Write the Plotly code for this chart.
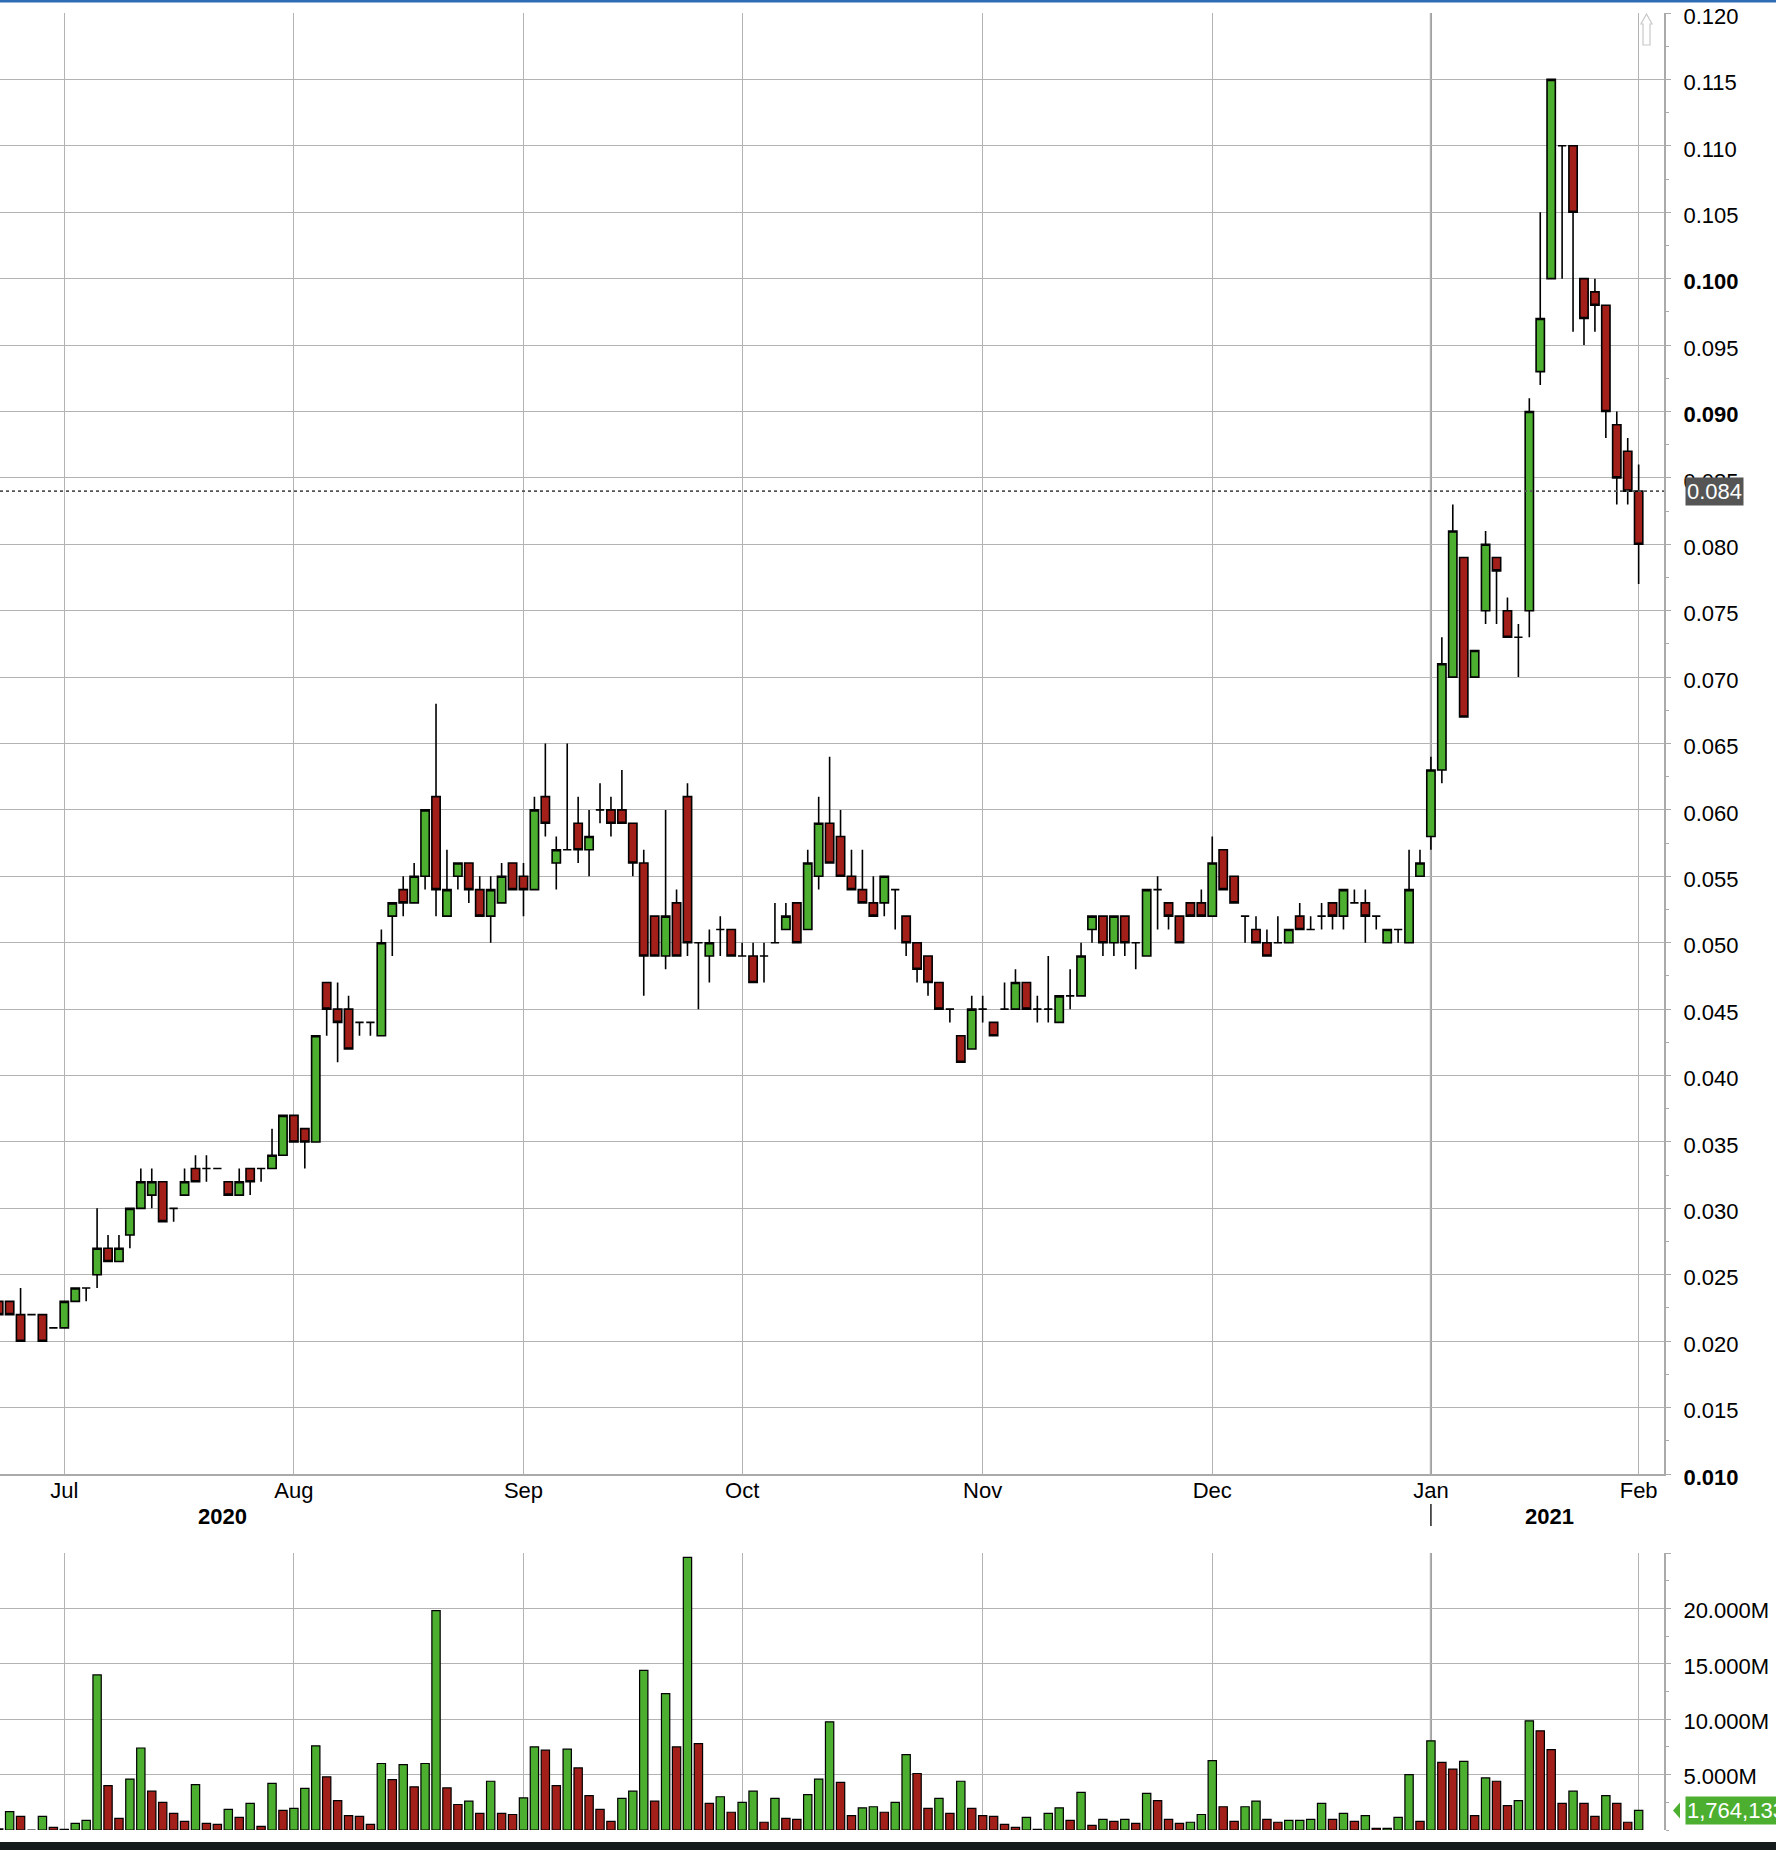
import plotly.graph_objects as go

# ---------------- data (one slot per trading session, left to right) ----------------
opens = [0.023,0.023,0.022,0.022,0.022,0.021,0.021,0.023,0.024,0.025,
         0.027,0.026,0.028,0.030,0.031,0.032,0.030,0.031,0.033,0.033,
         0.033,0.032,0.031,0.033,0.033,0.033,0.034,0.037,0.036,0.035,
         0.047,0.045,0.045,0.044,0.044,0.043,0.052,0.054,0.053,0.055,
         0.061,0.052,0.055,0.056,0.054,0.052,0.053,0.056,0.055,0.054,
         0.061,0.056,0.057,0.059,0.057,0.060,0.060,0.060,0.059,0.056,
         0.052,0.049,0.053,0.061,0.050,0.049,0.051,0.051,0.049,0.049,
         0.049,0.050,0.051,0.053,0.051,0.055,0.059,0.058,0.055,0.054,
         0.053,0.053,0.054,0.052,0.050,0.049,0.047,0.045,0.043,0.042,
         0.045,0.044,0.045,0.045,0.047,0.045,0.045,0.044,0.046,0.046,
         0.051,0.052,0.050,0.052,0.050,0.049,0.054,0.053,0.052,0.053,
         0.053,0.052,0.057,0.055,0.052,0.051,0.050,0.050,0.050,0.052,
         0.051,0.052,0.053,0.052,0.053,0.053,0.052,0.050,0.051,0.050,
         0.055,0.058,0.063,0.070,0.079,0.070,0.075,0.079,0.075,0.073,
         0.075,0.093,0.100,0.110,0.110,0.100,0.099,0.098,0.089,0.087,
         0.084]
highs = [0.023,0.023,0.024,0.022,0.022,0.021,0.023,0.024,0.024,0.030,
         0.028,0.028,0.030,0.033,0.033,0.032,0.030,0.033,0.034,0.034,
         0.033,0.032,0.033,0.033,0.033,0.036,0.037,0.037,0.036,0.043,
         0.047,0.047,0.046,0.044,0.044,0.051,0.053,0.055,0.056,0.060,
         0.068,0.057,0.056,0.056,0.055,0.055,0.056,0.056,0.056,0.061,
         0.065,0.058,0.065,0.061,0.060,0.062,0.061,0.063,0.059,0.057,
         0.052,0.060,0.054,0.062,0.050,0.051,0.052,0.051,0.050,0.050,
         0.050,0.053,0.053,0.053,0.057,0.061,0.064,0.060,0.057,0.057,
         0.055,0.055,0.054,0.052,0.050,0.049,0.047,0.045,0.043,0.046,
         0.046,0.044,0.047,0.048,0.047,0.046,0.049,0.046,0.048,0.050,
         0.052,0.052,0.052,0.052,0.050,0.054,0.055,0.053,0.052,0.053,
         0.054,0.058,0.057,0.055,0.052,0.052,0.051,0.052,0.051,0.053,
         0.052,0.053,0.053,0.054,0.054,0.054,0.052,0.051,0.051,0.057,
         0.057,0.064,0.073,0.083,0.079,0.072,0.081,0.079,0.076,0.074,
         0.091,0.105,0.115,0.110,0.110,0.100,0.100,0.098,0.090,0.088,
         0.086]
lows = [0.022,0.022,0.020,0.022,0.020,0.021,0.021,0.023,0.023,0.024,
        0.026,0.026,0.027,0.030,0.030,0.029,0.029,0.031,0.032,0.032,
        0.033,0.031,0.031,0.031,0.032,0.033,0.034,0.035,0.033,0.035,
        0.043,0.041,0.042,0.043,0.043,0.043,0.049,0.052,0.053,0.054,
        0.052,0.052,0.054,0.053,0.052,0.050,0.053,0.054,0.052,0.054,
        0.058,0.054,0.057,0.056,0.055,0.059,0.058,0.059,0.055,0.046,
        0.049,0.048,0.049,0.049,0.045,0.047,0.049,0.049,0.049,0.047,
        0.047,0.050,0.051,0.050,0.051,0.054,0.056,0.055,0.054,0.053,
        0.052,0.052,0.051,0.049,0.047,0.046,0.045,0.044,0.041,0.042,
        0.044,0.043,0.045,0.045,0.045,0.044,0.044,0.044,0.045,0.046,
        0.050,0.049,0.049,0.049,0.048,0.049,0.051,0.051,0.050,0.052,
        0.052,0.052,0.054,0.053,0.050,0.050,0.049,0.050,0.050,0.051,
        0.051,0.051,0.051,0.051,0.053,0.050,0.051,0.050,0.050,0.050,
        0.055,0.057,0.062,0.070,0.067,0.070,0.074,0.074,0.073,0.070,
        0.073,0.092,0.100,0.100,0.096,0.095,0.096,0.088,0.083,0.083,
        0.077]
closes = [0.022,0.022,0.020,0.022,0.020,0.021,0.023,0.024,0.024,0.027,
          0.026,0.027,0.030,0.032,0.032,0.029,0.030,0.032,0.032,0.033,
          0.033,0.031,0.032,0.032,0.033,0.034,0.037,0.035,0.035,0.043,
          0.045,0.044,0.042,0.044,0.044,0.050,0.053,0.053,0.055,0.060,
          0.054,0.054,0.056,0.054,0.052,0.054,0.055,0.054,0.054,0.060,
          0.059,0.057,0.057,0.057,0.058,0.060,0.059,0.059,0.056,0.049,
          0.049,0.052,0.049,0.050,0.050,0.050,0.051,0.049,0.049,0.047,
          0.049,0.050,0.052,0.050,0.056,0.059,0.056,0.055,0.054,0.053,
          0.052,0.055,0.054,0.050,0.048,0.047,0.045,0.045,0.041,0.045,
          0.045,0.043,0.045,0.047,0.045,0.045,0.045,0.046,0.046,0.049,
          0.052,0.050,0.052,0.050,0.050,0.054,0.054,0.052,0.050,0.052,
          0.052,0.056,0.054,0.053,0.052,0.050,0.049,0.050,0.051,0.051,
          0.051,0.052,0.052,0.054,0.053,0.052,0.052,0.051,0.051,0.054,
          0.056,0.063,0.071,0.081,0.067,0.072,0.080,0.078,0.073,0.073,
          0.090,0.097,0.115,0.110,0.105,0.097,0.098,0.090,0.085,0.084,
          0.080]
volume_m = [0.10,1.65,1.23,0.00,1.23,0.24,0.06,0.60,0.87,14.0,
            4.00,1.05,4.60,7.40,3.50,2.50,1.50,0.78,4.10,0.60,
            0.50,1.86,1.14,2.40,0.33,4.20,1.77,1.95,3.75,7.60,
            4.80,2.66,1.30,1.23,0.50,6.00,4.55,5.90,3.90,6.00,
            19.8,3.80,2.30,2.60,1.50,4.40,1.50,1.40,2.90,7.50,
            7.20,4.00,7.30,5.60,3.10,1.86,0.78,2.85,3.50,14.4,
            2.60,12.3,7.50,24.6,7.80,2.40,3.00,1.60,2.50,3.50,
            0.70,2.85,1.05,0.96,3.20,4.60,9.76,4.30,1.30,2.00,
            2.10,1.60,2.50,6.80,5.10,1.95,2.85,1.50,4.40,1.95,
            1.30,1.23,0.50,0.24,1.14,0.06,1.50,2.00,0.87,3.40,
            0.42,0.96,0.78,0.96,0.60,3.30,2.66,0.96,0.60,0.70,
            1.40,6.26,2.10,0.78,2.10,2.60,0.96,0.70,0.87,0.87,
            0.96,2.40,0.96,1.50,0.78,1.30,0.15,0.15,1.14,5.00,
            0.78,8.05,6.10,5.50,6.20,1.30,4.70,4.40,2.20,2.66,
            9.85,8.95,7.25,2.40,3.50,2.40,1.23,3.10,2.40,0.70,
            1.764133]
volume_up = "DUDUUDUUUUDDUUDDDDUDDUDUDUDUUUDDDDDUDUDUUDDUDUDDUUDDUDDDDUUUDUDUDDUDUUDUDDUUUDDUUDUUDDUDUDDDDDUUUUDUDUDUDUDDDUUUDDUUDDUUUUDUDUDUUUDUDDUDUDDUUDDDUDDUDDU"
month_slots = [6, 27, 48, 68, 90, 111, 131, 150]
month_labels = ["Jul", "Aug", "Sep", "Oct", "Nov", "Dec", "Jan", "Feb"]
year_labels = [("2020", 20.5), ("2021", 141.8)]
price_ticks = [round(0.010 + 0.005 * i, 3) for i in range(23)]
bold_prices = [0.010, 0.090, 0.100]
vol_ticks = [5, 10, 15, 20]
last_price = 0.084
last_volume_text = "1,764,133"

# ---------------- layout constants (pixels) ----------------
W, H = 1776, 1850
PL, PR = 0, 1664          # plot left/right
PT, PB = 13, 1830         # plot top/bottom
PRICE_BOTTOM = 1474
VOL_TOP = 1553
SLOT = 10.933
X0 = -1.3                 # pixel of slot 0
GREEN = "#4caf30"
RED = "#a3201a"
GRID = "#b3b3b3"
FONT = "Liberation Sans, Arial, Helvetica, sans-serif"

ph = PB - PT
def py(pix):
    return (PB - pix) / ph
def px(pix):
    return (pix - PL) / (PR - PL)

x = list(range(len(opens)))
vol = [v * 1e6 for v in volume_m]
vcol = [GREEN if c == "U" else RED for c in volume_up]

fig = go.Figure()
fig.add_trace(go.Candlestick(
    x=x, open=opens, high=highs, low=lows, close=closes,
    xaxis="x", yaxis="y",
    increasing=dict(fillcolor=GREEN, line=dict(color="black", width=1.6)),
    decreasing=dict(fillcolor=RED, line=dict(color="black", width=1.6)),
    whiskerwidth=0, showlegend=False, hoverinfo="skip"))
fig.add_trace(go.Bar(
    x=x, y=vol, xaxis="x2", yaxis="y2", width=0.76,
    marker=dict(color=vcol, line=dict(color="black", width=1.2)),
    showlegend=False, hoverinfo="skip"))

xr = [(PL - X0) / SLOT, (PR - X0) / SLOT]
ptext = []
for p in price_ticks:
    t = f"{p:.3f}"
    ptext.append(f"<b>{t}</b>" if any(abs(p - b) < 1e-9 for b in bold_prices) else t)

fig.update_layout(
    width=W, height=H,
    margin=dict(l=PL, r=W - PR, t=PT, b=H - PB),
    paper_bgcolor="white", plot_bgcolor="white",
    boxgap=0.24, boxgroupgap=0,
    font=dict(family=FONT, size=22, color="black"),
    xaxis=dict(domain=[0, 1], range=xr, anchor="y",
               tickmode="array", tickvals=month_slots, ticktext=month_labels,
               ticks="", showgrid=True, gridcolor=GRID, gridwidth=1,
               showline=True, linecolor="#aaaaaa", linewidth=2,
               zeroline=False, rangeslider=dict(visible=False),
               ticklabelstandoff=-4,
               tickfont=dict(size=22)),
    xaxis2=dict(domain=[0, 1], range=xr, anchor="y2", matches="x",
                tickmode="array", tickvals=month_slots, showticklabels=False,
                ticks="", showgrid=True, gridcolor=GRID, gridwidth=1,
                showline=False, zeroline=False),
    yaxis=dict(domain=[py(PRICE_BOTTOM), 1], range=[0.010, 0.120], side="right",
               anchor="x", tickmode="array", tickvals=price_ticks, ticktext=ptext,
               ticks="outside", ticklen=5, tickcolor="#aaaaaa",
               ticklabelstandoff=8, ticklabelshift=3,
               minor=dict(ticks="outside", ticklen=3, tickcolor="#aaaaaa",
                          dtick=0.0025, tick0=0.0125, showgrid=False),
               showgrid=True, gridcolor=GRID, gridwidth=1,
               showline=True, linecolor="#aaaaaa", linewidth=2,
               zeroline=False, tickfont=dict(size=22)),
    yaxis2=dict(domain=[0, py(VOL_TOP)], range=[0, 25e6], side="right",
                anchor="x2", tickmode="array",
                tickvals=[v * 1e6 for v in vol_ticks] + [25e6],
                ticktext=[f"{v}.000M" for v in vol_ticks] + [""],
                ticks="outside", ticklen=5, tickcolor="#aaaaaa",
                ticklabelstandoff=8, ticklabelshift=2,
                minor=dict(ticks="outside", ticklen=3, tickcolor="#aaaaaa",
                           dtick=2.5e6, showgrid=False),
                showgrid=True, gridcolor=GRID, gridwidth=1,
                showline=True, linecolor="#aaaaaa", linewidth=2,
                zeroline=False, tickfont=dict(size=22)),
)

shapes = []
jan = month_slots[month_labels.index("Jan")]
shapes.append(dict(type="line", xref="x", yref="paper", x0=jan, x1=jan,
                   y0=py(PRICE_BOTTOM), y1=1, line=dict(color="#a0a0a0", width=2.2), layer="below"))
shapes.append(dict(type="line", xref="x", yref="paper", x0=jan, x1=jan,
                   y0=0, y1=py(VOL_TOP), line=dict(color="#a0a0a0", width=2.2), layer="below"))
shapes.append(dict(type="line", xref="x", yref="paper", x0=jan, x1=jan,
                   y0=py(1526), y1=py(1504), line=dict(color="#222222", width=1.5)))
shapes.append(dict(type="line", xref="paper", yref="y", x0=0, x1=1,
                   y0=last_price, y1=last_price, line=dict(color="#555555", width=1.6, dash="dot")))
shapes.append(dict(type="rect", xref="paper", yref="paper", x0=px(0), x1=px(W),
                   y0=py(2.5), y1=py(0), fillcolor="#2e6db4", line=dict(width=0)))
shapes.append(dict(type="rect", xref="paper", yref="paper", x0=px(0), x1=px(W),
                   y0=py(H), y1=py(1842), fillcolor="#161b1b", line=dict(width=0)))
vy = vol[-1]
dv = 8 / ((PB - VOL_TOP) / 25e6)
shapes.append(dict(type="path", xref="paper", yref="y2",
                   path=f"M {px(1680)},{vy + dv} L {px(1673)},{vy} L {px(1680)},{vy - dv} Z",
                   fillcolor="#4caf30", line=dict(width=0)))
shapes.append(dict(type="path", xref="paper", yref="paper",
                   path=(f"M {px(1643)},{py(45)} L {px(1643)},{py(24)} L {px(1641)},{py(24)} "
                         f"L {px(1646.5)},{py(14)} L {px(1652)},{py(24)} L {px(1650)},{py(24)} "
                         f"L {px(1650)},{py(45)} Z"),
                   fillcolor="white", line=dict(color="#c8c8c8", width=1.2)))

annotations = []
for txt, xpos in year_labels:
    annotations.append(dict(text=f"<b>{txt}</b>", x=xpos, xref="x", y=py(1516), yref="paper",
                            showarrow=False, font=dict(size=22, color="black", family=FONT),
                            xanchor="center", yanchor="middle"))
annotations.append(dict(text=f"{last_price:.3f}", x=px(1685), xref="paper", y=last_price, yref="y",
                        showarrow=False, xanchor="left", yanchor="middle",
                        bgcolor="#555555", borderpad=1,
                        font=dict(size=22, color="white", family=FONT)))
annotations.append(dict(text=last_volume_text, x=px(1685), xref="paper", y=vy, yref="y2",
                        showarrow=False, xanchor="left", yanchor="middle",
                        bgcolor="#4caf30", borderpad=1,
                        font=dict(size=22, color="white", family=FONT)))

fig.update_layout(shapes=shapes, annotations=annotations)
fig.write_html("out.html", config={"displayModeBar": False},
               post_script="document.body.style.margin='0';")
